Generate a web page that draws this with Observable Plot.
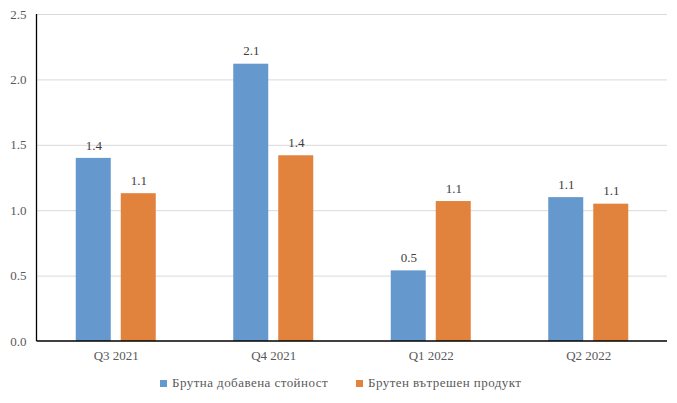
<!DOCTYPE html>
<html><head><meta charset="utf-8">
<script src="https://cdn.jsdelivr.net/npm/d3@7"></script>
<script src="https://cdn.jsdelivr.net/npm/@observablehq/plot@0.6"></script>
<style>
body{margin:0;background:#fff;font-family:"Liberation Serif","Tinos","DejaVu Serif",serif;}
#legend{font-size:13px;color:#595959;height:35px;position:relative;letter-spacing:0.45px;}
.item{position:absolute;display:flex;align-items:center;top:7px;white-space:nowrap;}
.sw{width:7px;height:7px;margin-right:5px;}
</style></head>
<body>
<div id="chart"></div>
<div id="legend"></div>
<script>
const quarters = ["Q3 2021","Q4 2021","Q1 2022","Q2 2022"];
const series = ["Брутна добавена стойност","Брутен вътрешен продукт"];
const gva = [1.40, 2.12, 0.54, 1.10];
const gdp = [1.13, 1.42, 1.07, 1.05];
const colors = ["#6598CD","#E1833D"];
const yTicks = [0,0.5,1.0,1.5,2.0,2.5];

const data = [];
quarters.forEach((q,i)=>{
  data.push({q, s:series[0], v:gva[i]});
  data.push({q, s:series[1], v:gdp[i]});
});

const FONT = '"Liberation Serif","Tinos","DejaVu Serif",serif';
const plot = Plot.plot({
  width:677, height:368,
  marginLeft:37, marginRight:10, marginTop:14, marginBottom:27,
  style:{fontFamily:FONT, fontSize:"13px", color:"#595959", background:"#fff"},
  fx:{domain:quarters, padding:0, round:false, label:null},
  x:{domain:series, paddingInner:0.2222, paddingOuter:0.8611, round:false, axis:null},
  y:{domain:[0,2.5], ticks:yTicks, label:null},
  color:{domain:series, range:colors},
  marks:[
    Plot.barY(data, {fx:"q", x:"s", y:"v", fill:"s"}),
    Plot.text(data, {fx:"q", x:"s", y:"v", text:d=>d3.format(".1f")(d.v), dy:-13, fill:"#404040", fontSize:13}),
    Plot.axisY({ticks:yTicks, tickFormat:d3.format(".1f"), tickSize:0, tickPadding:11, fontSize:13, fill:"#595959"}),
    Plot.axisFx({tickSize:0, tickPadding:9, anchor:"bottom", fontSize:13, fill:"#595959", label:null}),
  ]
});
document.getElementById("chart").appendChild(plot);

// gridlines, y-axis line and baseline spanning the whole plot area, from Plot's y scale
const svg = d3.select(plot);
const yS = plot.scale("y");
const g = svg.insert("g", ":first-child");
yTicks.filter(d=>d>0).forEach(t=>{
  g.append("line").attr("x1",37).attr("x2",667).attr("y1",yS.apply(t)+0.5).attr("y2",yS.apply(t)+0.5).attr("stroke","#d9d9d9");
});
g.lower();
svg.append("line").attr("x1",36.5).attr("x2",667).attr("y1",yS.apply(0)).attr("y2",yS.apply(0)).attr("stroke","#000").attr("stroke-width",1.3);
svg.append("line").attr("x1",36.5).attr("x2",36.5).attr("y1",yS.apply(2.5)).attr("y2",yS.apply(0)).attr("stroke","#000").attr("stroke-width",1.3);

const leg = document.getElementById("legend");
const lx = [160, 356];
series.forEach((s,i)=>{
  const it = document.createElement("div");
  it.className="item"; it.style.left = lx[i]+"px";
  const sw = document.createElement("span"); sw.className="sw"; sw.style.background=colors[i];
  const t = document.createElement("span"); t.textContent = s;
  it.appendChild(sw); it.appendChild(t); leg.appendChild(it);
});
</script>
</body></html>
